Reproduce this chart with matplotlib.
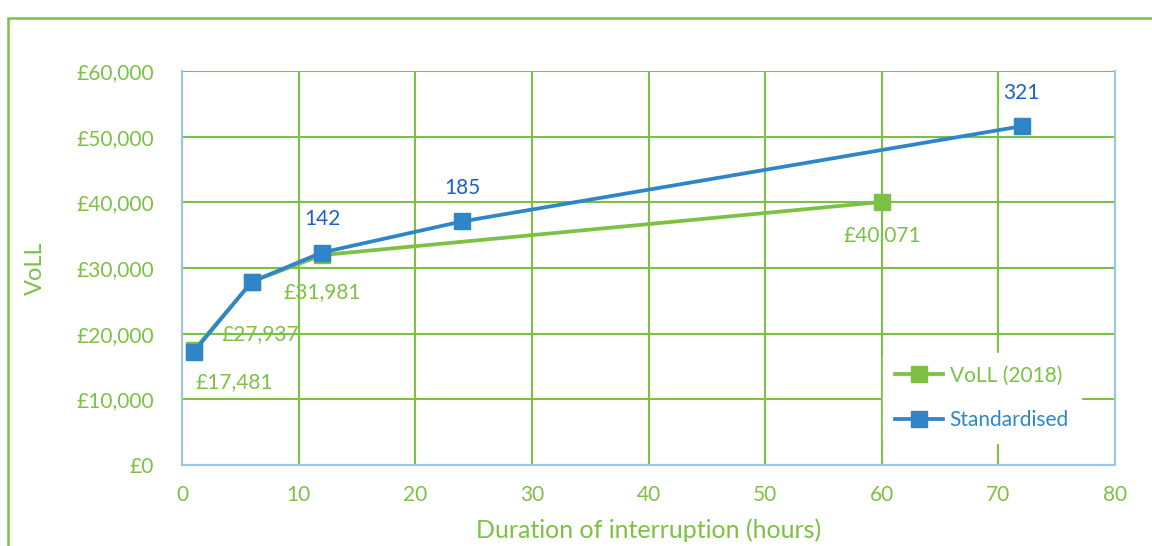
import matplotlib.pyplot as plt
from matplotlib.patches import Rectangle
from matplotlib.ticker import FuncFormatter

plt.rcParams['font.family'] = ['Lato', 'DejaVu Sans']

# VoLL (2018) values by interruption duration
hours_2018 = [1, 6, 12, 60]
voll_2018 = [17481, 27937, 31981, 40071]

# standardised values and their labels
hours_std = [1, 6, 12, 24, 72]
voll_std = [17250, 27940, 32370, 37100, 51600]
std_labels = ['', '', '142', '185', '321']

green = '#7cc144'
blue = '#2e86c8'
label_blue = '#1f5fc9'
spine_blue = '#9dc3e6'

fig = plt.figure(figsize=(11.52, 5.46), dpi=100)
ax = fig.add_axes([0.158, 0.148, 0.810, 0.722])

# outer chart border (runs off the right and bottom edges)
fig.patches.append(Rectangle((8 / 1152, -0.05), 1.1, 1 - 18 / 546 + 0.05,
                             transform=fig.transFigure, fill=False,
                             edgecolor=green, linewidth=1.8))

ax.plot(hours_2018, voll_2018, color=green, lw=2.7, marker='s', ms=11,
        label='VoLL (2018)', zorder=3)
ax.plot(hours_std, voll_std, color=blue, lw=2.7, marker='s', ms=11,
        label='Standardised', zorder=4)

# value labels
offsets_2018 = [(29, -23), (6, -38), (0, -27), (0, -24)]
for x, y, off in zip(hours_2018, voll_2018, offsets_2018):
    ax.annotate(f'£{y:,}', (x, y), xytext=off, textcoords='offset points',
                ha='center', va='center', color=green, fontsize=15, zorder=5)
for x, y, t in zip(hours_std, voll_std, std_labels):
    if t:
        ax.annotate(t, (x, y), xytext=(0, 24), textcoords='offset points',
                    ha='center', va='center', color=label_blue, fontsize=15,
                    zorder=5)

ax.set_xlim(0, 80)
ax.set_ylim(0, 60000)
ax.set_xticks(range(0, 81, 10))
ax.set_yticks(range(0, 60001, 10000))
ax.yaxis.set_major_formatter(FuncFormatter(lambda v, p: f'£{v:,.0f}'))
ax.tick_params(length=0, colors=green, labelsize=15, pad=14)
ax.tick_params(axis='y', pad=20)

ax.grid(True, color=green, lw=1.5)
ax.set_axisbelow(True)
for side in ['left', 'bottom', 'right']:
    ax.spines[side].set_color(spine_blue)
    ax.spines[side].set_linewidth(1.5)
ax.spines['top'].set_visible(False)

ax.set_xlabel('Duration of interruption (hours)', color=green, fontsize=18,
              labelpad=10)
ax.set_ylabel('VoLL', color=green, fontsize=17, labelpad=22)

leg = ax.legend(loc='lower right', bbox_to_anchor=(0.975, 0.03),
                frameon=True, fontsize=15, handlelength=2.3,
                handletextpad=0.3, labelspacing=1.2, borderpad=0.6)
leg.get_frame().set_edgecolor('white')
leg.get_frame().set_alpha(1)
for txt, c in zip(leg.get_texts(), [green, blue]):
    txt.set_color(c)

fig.savefig('out.png', dpi=100)
